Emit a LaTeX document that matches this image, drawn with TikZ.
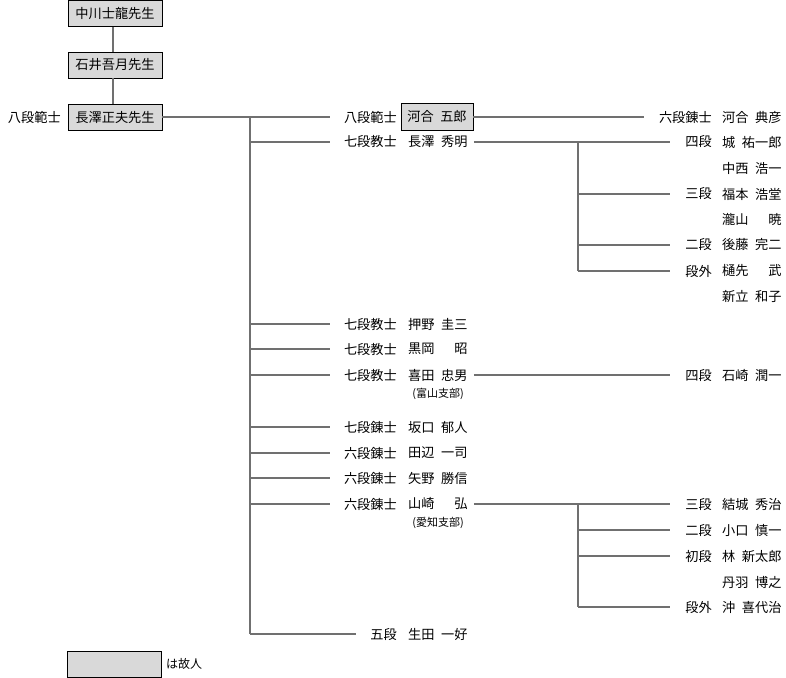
\documentclass[tikz,border=0pt]{standalone}
\usepackage{fontspec}
\setmainfont{Noto Sans CJK JP}
\definecolor{lgray}{HTML}{707070}
\definecolor{bgray}{HTML}{D9D9D9}
\newcommand\jpf{\fontsize{13.2}{16}\selectfont}
\newcommand\gp{\hspace{0.5em}}
\newcommand\gq{\hspace{1.5em}}
\tikzset{
  conn/.style={draw=lgray, line width=2pt},
  rk/.style={anchor=east, inner sep=0pt, font=\jpf},
  nm/.style={anchor=west, inner sep=0pt, font=\jpf},
  dead/.style={draw=black, line width=0.9pt, fill=bgray, minimum width=94pt, minimum height=26pt, inner sep=0pt, font=\jpf},
  branch/.style={anchor=east, inner sep=0pt, font=\fontsize{11}{13}\selectfont},
}
\begin{document}
\begin{tikzpicture}[x=1pt,y=-1pt]
\useasboundingbox (0,0) rectangle (786,677);
% lineage boxes
\node[dead] (b1) at (115,13.5) {中川士龍先生};
\node[dead] (b2) at (115,65) {石井吾月先生};
\node[dead] (b3) at (115,117.5) {長澤正夫先生};
\node[rk] (l0) at (61,117) {八段範士};
% middle column
\node[rk] (m1) at (397,117) {八段範士};
\node[dead, minimum width=72pt, minimum height=27pt] (n1) at (437,116.5) {河合\gp{}五郎};
\node[rk] (m2) at (397,142) {七段教士};
\node[nm] (n2) at (408,142) {長澤\gp{}秀明};
\node[rk] (m3) at (397,324) {七段教士};
\node[nm] (n3) at (408,324) {押野\gp{}圭三};
\node[rk] (m4) at (397,349) {七段教士};
\node[nm] (n4) at (408,349) {黒岡\gq{}昭};
\node[rk] (m5) at (397,375) {七段教士};
\node[nm] (n5) at (408,375) {喜田\gp{}忠男};
\node[branch] (s5) at (464,394) {(富山支部)};
\node[rk] (m6) at (397,427) {七段錬士};
\node[nm] (n6) at (408,427) {坂口\gp{}郁人};
\node[rk] (m7) at (397,453) {六段錬士};
\node[nm] (n7) at (408,453) {田辺\gp{}一司};
\node[rk] (m8) at (397,478) {六段錬士};
\node[nm] (n8) at (408,478) {矢野\gp{}勝信};
\node[rk] (m9) at (397,504) {六段錬士};
\node[nm] (n9) at (408,504) {山崎\gq{}弘};
\node[branch] (s9) at (464,523) {(愛知支部)};
\node[rk] (m10) at (397,634) {五段};
\node[nm] (n10) at (408,634) {生田\gp{}一好};
% right column
\node[rk] (q1) at (712,117) {六段錬士};
\node[nm] (p1) at (722,117) {河合\gp{}典彦};
\node[rk] (q2) at (712,142) {四段};
\node[nm] (p2) at (722,142) {城\gp{}祐一郎};
\node[nm] (p3) at (722,168) {中西\gp{}浩一};
\node[rk] (q4) at (712,194) {三段};
\node[nm] (p4) at (722,194) {福本\gp{}浩堂};
\node[nm] (p5) at (722,219) {瀧山\gq{}暁};
\node[rk] (q6) at (712,245) {二段};
\node[nm] (p6) at (722,245) {後藤\gp{}完二};
\node[rk] (q7) at (712,271) {段外};
\node[nm] (p7) at (722,271) {樋先\gq{}武};
\node[nm] (p8) at (722,297) {新立\gp{}和子};
\node[rk] (q9) at (712,375) {四段};
\node[nm] (p9) at (722,375) {石崎\gp{}潤一};
\node[rk] (q10) at (712,504) {三段};
\node[nm] (p10) at (722,504) {結城\gp{}秀治};
\node[rk] (q11) at (712,530) {二段};
\node[nm] (p11) at (722,530) {小口\gp{}慎一};
\node[rk] (q12) at (712,556) {初段};
\node[nm] (p12) at (722,556) {林\gp{}新太郎};
\node[nm] (p13) at (722,582) {丹羽\gp{}博之};
\node[rk] (q14) at (712,607) {段外};
\node[nm] (p14) at (722,607) {沖\gp{}喜代治};
% legend
\node[dead] (lg) at (114.5,664) {};
\node[anchor=west, inner sep=0pt, font=\fontsize{12}{14}\selectfont] (lgt) at (166,664) {は故人};
% connectors: lineage
\draw[conn] ([xshift=-2pt]b1.south) -- ([xshift=-2pt]b2.north);
\draw[conn] ([xshift=-2pt]b2.south) -- ([xshift=-2pt]b3.north);
\draw[conn] (b3.east |- m1) -- ([xshift=-14pt]m1.west);
% trunk
\coordinate (t0) at (250,117);
\draw[conn] (t0) -- (t0 |- m10);
\foreach \k in {2,...,10} {
  \draw[conn] (t0 |- m\k) -- ([xshift=-14pt]m\k.west);
}
% to right column
\draw[conn] (n1.east |- q1) -- ([xshift=-15pt]q1.west);
\draw[conn] ([xshift=6pt]n2.east) -- ([xshift=-15pt]q2.west);
\coordinate (s1) at (578,142);
\draw[conn] (s1) -- (s1 |- q7);
\foreach \k in {4,6,7} {
  \draw[conn] (s1 |- q\k) -- ([xshift=-15pt]q\k.west);
}
\draw[conn] ([xshift=6pt]n5.east) -- ([xshift=-15pt]q9.west);
\draw[conn] ([xshift=6pt]n9.east) -- ([xshift=-15pt]q10.west);
\coordinate (s2) at (578,504);
\draw[conn] (s2) -- (s2 |- q14);
\foreach \k in {11,12,14} {
  \draw[conn] (s2 |- q\k) -- ([xshift=-15pt]q\k.west);
}
\end{tikzpicture}
\end{document}
